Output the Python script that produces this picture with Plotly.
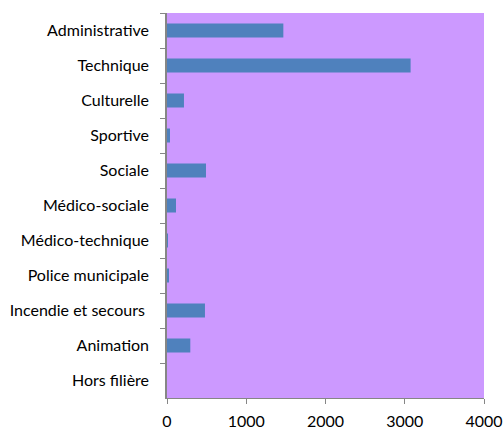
import plotly.graph_objects as go

categories = ["Administrative", "Technique", "Culturelle", "Sportive", "Sociale",
              "Médico-sociale", "Médico-technique", "Police municipale",
              "Incendie et secours ", "Animation", "Hors filière"]
values = [1468, 3074, 214, 38, 492, 114, 5, 25, 479, 294, 0]
x_ticks = [0, 1000, 2000, 3000, 4000]

fig = go.Figure(go.Bar(
    y=categories, x=values, orientation="h",
    marker=dict(color="#4F81BD", line=dict(width=0)),
))

font = dict(family="Lato, Open Sans, sans-serif", size=16, color="#000000")
fig.update_layout(
    width=504, height=427,
    margin=dict(l=167, r=20, t=13, b=29),
    paper_bgcolor="white", plot_bgcolor="#CC99FF",
    bargap=0.6, showlegend=False, font=font,
)
fig.update_xaxes(
    range=[0, 4000], tickvals=x_ticks, showgrid=False, zeroline=False,
    showline=True, linecolor="#868686", linewidth=1,
    ticks="outside", ticklen=5, tickcolor="#868686",
    automargin=False, ticklabelstandoff=4,
)
fig.update_yaxes(
    autorange="reversed", showgrid=False, zeroline=False,
    showline=True, linecolor="#868686", linewidth=1.5,
    ticks="outside", ticklen=5, tickcolor="#868686", tickson="boundaries",
    automargin=False, ticklabelstandoff=13,
)
fig.write_html("out.html", config={"displayModeBar": False},
               post_script="document.body.style.margin='0';")
